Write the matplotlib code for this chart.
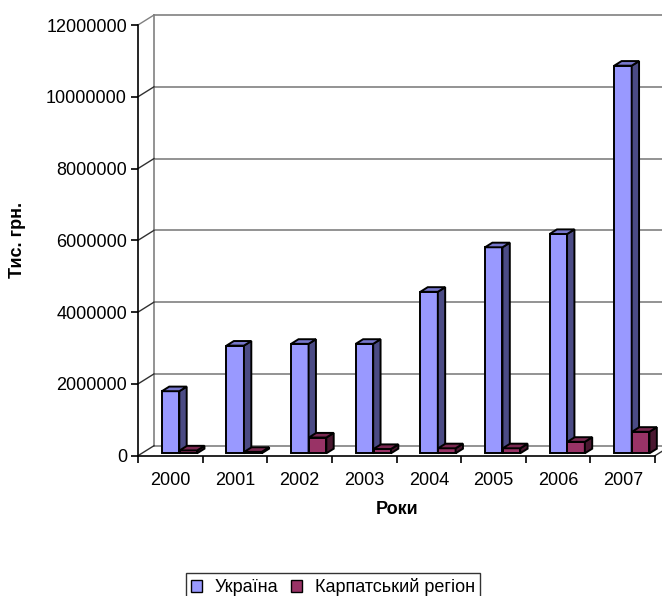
import numpy as np
import matplotlib
matplotlib.use('Agg')
import matplotlib.pyplot as plt
import matplotlib.transforms as mtransforms
from matplotlib.patches import Polygon, Patch

years = ['2000', '2001', '2002', '2003', '2004', '2005', '2006', '2007']
ukraine = [1730000, 3000000, 3050000, 3050000, 4500000, 5740000, 6110000, 10800000]
karpaty = [80000, 40000, 440000, 120000, 140000, 140000, 320000, 600000]
yticks = [0, 2000000, 4000000, 6000000, 8000000, 10000000, 12000000]
series_names = ['Україна', 'Карпатський регіон']

plt.rcParams['font.family'] = ['Liberation Sans', 'DejaVu Sans']

W, H = 662, 596
fig = plt.figure(figsize=(W / 100, H / 100), dpi=100)
ax = fig.add_axes([138 / W, 1 - 455.7 / H, 517 / W, 430.7 / H])
ax.set_xlim(0, len(years))
ax.set_ylim(0, 12000000)
ax.patch.set_visible(False)

DX, DY = 16, 10  # full depth offset in pixels
D0, D1 = 0.24, 0.70  # bar depth range


def depth(d):
    return ax.transData + mtransforms.Affine2D().translate(DX * d, DY * d)


def disp(x, y, d):
    p = ax.transData.transform((x, y))
    return (p[0] + DX * d, p[1] + DY * d)


ident = mtransforms.IdentityTransform()
grid_c = '#808080'

# back wall gridlines
for v in yticks:
    ax.plot([0, len(years) + 1], [v, v], transform=depth(1), color=grid_c,
            lw=1.2, clip_on=False, zorder=1)
ax.plot([0, 0], [0, yticks[-1]], transform=depth(1), color=grid_c, lw=1.2,
        clip_on=False, zorder=1)
# left wall diagonals
for v in yticks:
    p0 = disp(0, v, 0)
    p1 = disp(0, v, 1)
    ax.plot([p0[0], p1[0]], [p0[1], p1[1]], transform=ident,
            color='#303030' if v != yticks[-1] else grid_c, lw=1.0,
            clip_on=False, zorder=1)
# right floor diagonal
p0 = disp(len(years), 0, 0)
p1 = disp(len(years), 0, 1)
ax.plot([p0[0], p1[0]], [p0[1], p1[1]], transform=ident, color='#303030',
        lw=1.0, clip_on=False, zorder=1)

x = np.arange(len(years))
bw = 0.27
specs = [
    (ukraine, x + 0.31, '#9999FF', '#4B4B85', '#7777CC', 3),
    (karpaty, x + 0.585, '#993366', '#4A1830', '#7A2850', 4),
]
for vals, xl, cf, cs, ct, z in specs:
    ax.bar(xl, vals, width=bw, align='edge', color=cf, edgecolor='black',
           lw=1.4, transform=depth(D0), zorder=z, clip_on=False)
    for x0, h in zip(xl, vals):
        x1 = x0 + bw
        side = [disp(x1, 0, D0), disp(x1, 0, D1), disp(x1, h, D1), disp(x1, h, D0)]
        top = [disp(x0, h, D0), disp(x1, h, D0), disp(x1, h, D1), disp(x0, h, D1)]
        ax.add_patch(Polygon(side, closed=True, facecolor=cs, edgecolor='black',
                             lw=1.4, transform=ident, zorder=z, clip_on=False))
        ax.add_patch(Polygon(top, closed=True, facecolor=ct, edgecolor='black',
                             lw=1.4, transform=ident, zorder=z, clip_on=False))

ax.set_xlim(0, len(years))
ax.set_ylim(0, 12000000)

for s in ['top', 'right']:
    ax.spines[s].set_visible(False)
for s in ['left', 'bottom']:
    ax.spines[s].set_color('black')
    ax.spines[s].set_linewidth(1.2)

ax.set_yticks(yticks, labels=[str(v) for v in yticks])
ax.set_xticks(np.arange(len(years) + 1), labels=[''] * (len(years) + 1))
ax.set_xticks(x + 0.5, labels=years, minor=True)
ax.tick_params(axis='y', direction='out', length=5, width=1.2, labelsize=13,
               pad=3, colors='black')
ax.tick_params(axis='x', which='major', direction='out', length=5, width=1.2)
ax.tick_params(axis='x', which='minor', length=0, labelsize=13, pad=12)

fig.text(18 / W, 1 - 240 / H, 'Тис. грн.', rotation=90, ha='center',
         va='center', fontsize=13, fontweight='bold')
fig.text(397 / W, 1 - 509 / H, 'Роки', ha='center', va='center', fontsize=13,
         fontweight='bold')

handles = [Patch(facecolor='#9999FF', edgecolor='black', lw=1.0),
           Patch(facecolor='#993366', edgecolor='black', lw=1.0)]
leg = fig.legend(handles, series_names, loc='upper left',
                 bbox_to_anchor=(186 / W, 1 - 573 / H), ncol=2, fontsize=13,
                 frameon=True, fancybox=False, edgecolor='black',
                 handlelength=0.6, handleheight=0.6, handletextpad=0.7,
                 columnspacing=0.7, borderpad=0.3, borderaxespad=0)
leg.get_frame().set_linewidth(1.0)

fig.savefig('out.png', dpi=100, facecolor='white')
